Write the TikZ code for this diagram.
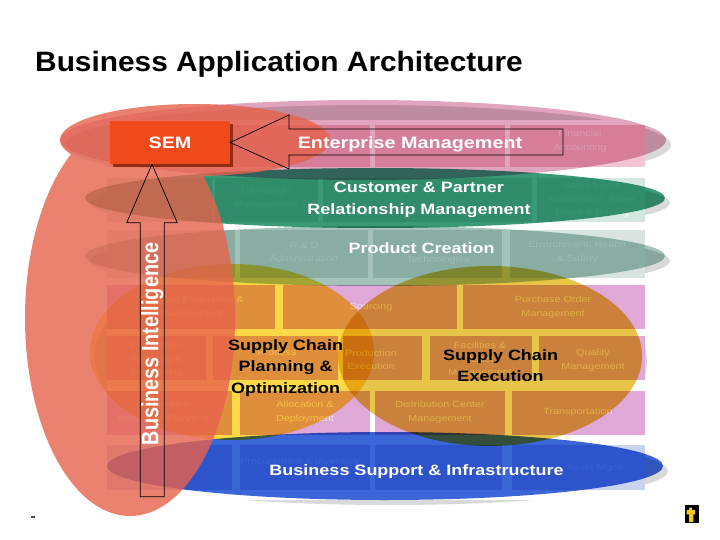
\documentclass[tikz,border=0pt]{standalone}
\usepackage{fontspec}
\usepackage{graphicx}
\setmainfont{Liberation Sans}
\newfontfamily\wideface[FakeStretch=1.2]{Liberation Sans}
\newfontfamily\titleface[FakeStretch=1.066]{Liberation Sans}
\usetikzlibrary{calc}

\definecolor{lanepink}{HTML}{E0A4BC}
\definecolor{lanegreen}{HTML}{3A9A78}
\definecolor{laneteal}{HTML}{A2C2BA}
\definecolor{laneyelL}{HTML}{FFD848}
\definecolor{laneyelR}{HTML}{E8C448}
\definecolor{laneblue}{HTML}{3A66D8}
\definecolor{bicol}{HTML}{E6624C}
\definecolor{semred}{HTML}{F04A1C}
\definecolor{boxone}{HTML}{F4C4D0}
\definecolor{boxtwo}{HTML}{D4E8E0}
\definecolor{boxthree}{HTML}{D8E4E0}
\definecolor{boxmid}{HTML}{DFA8D6}
\definecolor{boxseven}{HTML}{C8D4F0}
\definecolor{logoyellow}{HTML}{F8C81C}

\tikzset{
    lane/.style={blend mode=multiply},
    laneshadow/.style={fill=black, fill opacity=0.15},
    boxlabel/.style={text=white, text opacity=0.7, inner sep=0, align=center,
        font=\wideface\fontsize{9}{13.5}\selectfont},
    biglabel/.style={inner sep=0, align=center,
        font=\wideface\bfseries\fontsize{15}{21.5}\selectfont},
    blockarrow/.style={draw=black, line width=0.7pt, line join=miter},
}

\begin{document}
\begin{tikzpicture}[x=1pt,y=-1pt]
    \fill[white] (0,0) rectangle (720,540);
    \useasboundingbox (0,0) rectangle (720,540);

    % shadows of the lanes
    \foreach \cx/\cy/\rx/\ry in {363/140/303/40, 375/198/290/30, 375/256/290/30,
                                 232/352/142/88, 490/356/152/90, 385/466/278/34} {
        \fill[laneshadow] (\cx+5,\cy+5) ellipse [x radius=\rx, y radius=\ry];
    }

    % application grid
    \fill[white] (107,120) rectangle (645,500);
    \foreach \a/\b in {107/370,375/505,510/645}
        \fill[boxone] (\a,125) rectangle (\b,167);
    \foreach \a/\b in {107/212,215/318,323/532,537/645}
        \fill[boxtwo] (\a,178) rectangle (\b,222);
    \foreach \a/\b in {107/235,240/368,373/502,510/645}
        \fill[boxthree] (\a,230) rectangle (\b,278);
    \foreach \a/\b in {107/275,283/457,463/645}
        \fill[boxmid] (\a,285) rectangle (\b,329);
    \foreach \a/\b in {107/206,213/338,343/422,430/532,539/645}
        \fill[boxmid] (\a,336) rectangle (\b,380);
    \foreach \a/\b in {107/232,240/370,375/505,512/645}
        \fill[boxmid] (\a,391) rectangle (\b,435);
    \foreach \a/\b in {107/232,240/370,375/502,512/645}
        \fill[boxseven] (\a,445) rectangle (\b,490);

    \node[boxlabel] (fa) at (580,141) {Financial\\Accounting};
    \node[boxlabel] (cmg) at (266,198) {Campaign\\Management};
    \node[boxlabel] (sfa) at (592,200) {Sales Force\\Automation, Sales\\Mgmt \& Pricing};
    \node[boxlabel] (rda) at (304,252) {R \& D\\Administration};
    \node[boxlabel] (tec) at (438,260) {Technologies};
    \node[boxlabel] (ehs) at (577,252) {Environment, Health\\\& Safety};
    \node[boxlabel] (sev) at (192,307) {Supplier Evaluation \&\\Management};
    \node[boxlabel] (src) at (371,307) {Sourcing};
    \node[boxlabel] (pom) at (553,307) {Purchase Order\\Management};
    \node[boxlabel] (pps) at (156,360) {Production\\Planning \&\\Scheduling};
    \node[boxlabel] (pen) at (277,360) {Process\\Engineering};
    \node[boxlabel] (pex) at (371,360) {Production\\Execution};
    \node[boxlabel] (fam) at (480,360) {Facilities \&\\Asset\\Management};
    \node[boxlabel] (qm) at (593,360) {Quality\\Management};
    \node[boxlabel] (drp) at (163,412) {Distribution\\Resource Planning};
    \node[boxlabel] (ad) at (305,412) {Allocation \&\\Deployment};
    \node[boxlabel] (dcm) at (440,412) {Distribution Center\\Management};
    \node[boxlabel] (tra) at (578,412) {Transportation};
    \node[boxlabel] (pim) at (300,462) {Procurement \& Inventory};
    \node[boxlabel] (am) at (595,468) {Asset Mgmt};

    % the lanes
    \foreach \cx/\cy/\rx/\ry/\col in {363/140/303/40/lanepink, 375/198/290/30/lanegreen,
                                      375/256/290/30/laneteal, 232/352/142/88/laneyelL,
                                      490/356/152/90/laneyelR, 385/466/278/34/laneblue} {
        \fill[lane, fill=\col] (\cx,\cy) ellipse [x radius=\rx, y radius=\ry];
    }

    % business intelligence column
    \fill[bicol, fill opacity=0.8] (195,140) ellipse [x radius=135, y radius=36]
        (130,318) ellipse [x radius=105, y radius=198];

    \fill[black!40!semred] (113,124) rectangle (233,167);
    \node[fill=semred, minimum width=120pt, minimum height=43pt, inner sep=0,
        text=white, font=\wideface\bfseries\fontsize{16.5}{18}\selectfont] (sem) at (170,142.5) {SEM};

    \draw[blockarrow] (sem.east) -- (289,115) -- (289,129) -- (563,129)
        -- (563,155) -- (289,155) -- (289,169) -- cycle;
    \draw[blockarrow] ([xshift=-18pt]sem.south) -- (177.3,222.7) -- (164.3,222.7)
        -- (164.3,496.7) -- (140.3,496.7) -- (140.3,222.7) -- (126.7,222.7) -- cycle;

    \node[anchor=base, inner sep=0, text=white,
        font=\wideface\bfseries\fontsize{16.5}{18}\selectfont] (em) at (410,149) {Enterprise Management};
    \node[biglabel, text=white] (crm) at (419,200) {Customer \& Partner\\Relationship Management};
    \node[biglabel, text=white, anchor=base] (pc) at (421.7,253.3) {Product Creation};
    \node[biglabel] (scp) at (285.5,368) {Supply Chain\\Planning \&\\Optimization};
    \node[biglabel] (sce) at (500.5,365.5) {Supply Chain\\Execution};
    \node[biglabel, text=white, anchor=base] (bsi) at (416.5,475.7) {Business Support \& Infrastructure};
    \node[rotate=90, inner sep=0, text=white,
        font=\bfseries\fontsize{19.8}{22}\selectfont] (bi) at (152.3,344) {\scalebox{1}[1.2]{Business Intelligence}};

    \node[anchor=base west, inner sep=0,
        font=\titleface\bfseries\fontsize{28}{30}\selectfont] (title) at (35,71.7) {Business Application Architecture};

    % logo and page mark
    \fill (685,505) rectangle (699.3,523.3);
    \fill[logoyellow] (689,507.7) -- (692,507.7) -- (692,510) -- (695,510) -- (695,514.3)
        -- (693.3,514.3) -- (693.3,522) -- (689,522) -- (689,514.3) -- (686.7,514.3)
        -- (686.7,510) -- (689,510) -- cycle;
    \fill[black!70] (30.7,515.7) rectangle (35,517.7);
\end{tikzpicture}
\end{document}
